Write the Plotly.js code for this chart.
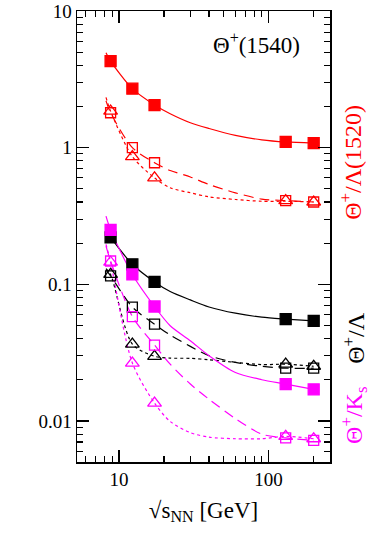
<!DOCTYPE html>
<html>
<head>
<meta charset="utf-8">
<script src="https://cdn.plot.ly/plotly-3.0.1.min.js"></script>
<style>
  html, body { margin: 0; padding: 0; background: #fff; }
  #plot { width: 382px; height: 546px; }
</style>
</head>
<body>
<div id="plot"></div>
<script>
// collision energies sqrt(s_NN) in GeV
var energy = [8.8, 12.3, 17.3, 130, 200];

// Theta+/Lambda(1520)
var lam1520Full = [4.3, 2.7, 2.05, 1.1, 1.08];
var lam1520Sq = [1.8, 1.0, 0.775, 0.41, 0.40];
var lam1520Tri = [1.85, 0.86, 0.6, 0.41, 0.40];

// Theta+/Lambda
var lamFull = [0.22, 0.14, 0.104, 0.0556, 0.054];
var lamSq = [0.115, 0.068, 0.051, 0.0243, 0.0243];
var lamTri = [0.118, 0.0365, 0.0297, 0.026, 0.0251];

// Theta+/K_s
var ksFull = [0.25, 0.118, 0.0687, 0.0186, 0.017];
var ksSq = [0.148, 0.058, 0.0359, 0.0075, 0.0072];
var ksTri = [0.145, 0.0265, 0.0135, 0.0077, 0.0074];

// curves
var curveX = [8.2, 8.8, 12.3, 17.3, 22, 30, 40, 60, 90, 130, 200];
var lam1520Solid = [4.95, 4.3, 2.7, 2.05, 1.77, 1.52, 1.38, 1.23, 1.14, 1.1, 1.08];
var lam1520Dash = [2.2, 1.8, 1.0, 0.775, 0.68, 0.61, 0.537, 0.467, 0.42, 0.41, 0.40];
var lam1520Dot = [2.33, 1.85, 0.86, 0.6, 0.508, 0.467, 0.436, 0.417, 0.405, 0.405, 0.40];
var lamSolid = [null, 0.22, 0.14, 0.104, 0.0885, 0.0768, 0.0682, 0.0614, 0.0574, 0.0556, 0.054];
var lamDash = [0.128, 0.115, 0.068, 0.051, 0.0425, 0.0351, 0.030, 0.0268, 0.0251, 0.0243, 0.0243];
var lamDot = [0.13, 0.118, 0.0365, 0.0297, 0.0288, 0.0287, 0.028, 0.0268, 0.0258, 0.026, 0.0251];
var ksSolid = [0.315, 0.25, 0.118, 0.0687, 0.0497, 0.0386, 0.030, 0.0226, 0.020, 0.0186, 0.017];
var ksDash = [0.19, 0.148, 0.058, 0.0359, 0.026, 0.0186, 0.0144, 0.0104, 0.008, 0.0075, 0.0072];
var ksDot = [0.196, 0.145, 0.0265, 0.0135, 0.0099, 0.0082, 0.0076, 0.0074, 0.0074, 0.0077, 0.0074];

var RED = '#ff0000', MAG = '#ff00ff', BLK = '#000000';

function curve(y, color, dash) {
  return {
    x: curveX, y: y, mode: 'lines', hoverinfo: 'skip',
    line: {color: color, width: 1.2, dash: dash, shape: 'spline', smoothing: 0.8}
  };
}
function pts(y, color, symbol, size) {
  return {
    x: energy, y: y, mode: 'markers',
    marker: {
      symbol: symbol, size: size, color: color,
      line: {color: color, width: 1.3}
    }
  };
}

var data = [
  curve(lam1520Solid, RED, 'solid'),
  curve(lam1520Dash, RED, '10px,6px'),
  curve(lam1520Dot, RED, 'dot'),
  curve(lamSolid, BLK, 'solid'),
  curve(lamDash, BLK, '10px,6px'),
  curve(lamDot, BLK, 'dot'),
  curve(ksSolid, MAG, 'solid'),
  curve(ksDash, MAG, '10px,6px'),
  curve(ksDot, MAG, 'dot'),
  pts(lam1520Sq, RED, 'square-open', 10),
  pts(lam1520Tri, RED, 'triangle-up-open', 12),
  pts(lam1520Full, RED, 'square', 11),
  pts(lamSq, BLK, 'square-open', 10),
  pts(lamTri, BLK, 'triangle-up-open', 12),
  pts(lamFull, BLK, 'square', 11),
  pts(ksSq, MAG, 'square-open', 10),
  pts(ksTri, MAG, 'triangle-up-open', 12),
  pts(ksFull, MAG, 'square', 11),
  // invisible copy so the top/right tick axes exist
  {x: energy, y: lamFull, xaxis: 'x2', yaxis: 'y2', mode: 'markers',
   marker: {opacity: 0}, hoverinfo: 'skip'}
];

var minorX = [6, 7, 8, 9, 20, 30, 40, 50, 60, 70, 80, 90, 200];
var minorY = [];
[0.001, 0.01, 0.1, 1].forEach(function (d) {
  for (var k = 2; k <= 9; k++) minorY.push(+(k * d).toPrecision(3));
});

var font = {family: 'Liberation Serif, DejaVu Serif, serif', size: 19, color: '#000'};
var xRange = [Math.log10(5.25), Math.log10(257)];
var yRange = [Math.log10(0.005), 1];

function tickAxis(extra) {
  var a = {
    type: 'log', ticks: 'inside', ticklen: 12, tickwidth: 1.3, tickcolor: '#000',
    showline: true, linecolor: '#000', linewidth: 1.5,
    showgrid: false, zeroline: false
  };
  for (var k in extra) a[k] = extra[k];
  return a;
}

var layout = {
  width: 382, height: 546,
  margin: {l: 77, r: 52, t: 11, b: 84},
  paper_bgcolor: '#fff', plot_bgcolor: '#fff',
  showlegend: false,
  font: font,
  xaxis: tickAxis({
    range: xRange, tickvals: [10, 100], ticktext: ['10', '100'],
    minor: {tickvals: minorX, ticks: 'inside', ticklen: 6, tickwidth: 1.1, tickcolor: '#000', showgrid: false},
    title: {text: '√s<sub>NN</sub> [GeV]', font: {family: font.family, size: 23}, standoff: 12}
  }),
  yaxis: tickAxis({
    range: yRange, tickvals: [0.01, 0.1, 1, 10], ticktext: ['0.01', '0.1', '1', '10'],
    minor: {tickvals: minorY, ticks: 'inside', ticklen: 6, tickwidth: 1.1, tickcolor: '#000', showgrid: false}
  }),
  xaxis2: tickAxis({
    overlaying: 'x', side: 'top', anchor: 'y2', range: xRange,
    tickvals: [10, 100], showticklabels: false,
    minor: {tickvals: minorX, ticks: 'inside', ticklen: 6, tickwidth: 1.1, tickcolor: '#000', showgrid: false}
  }),
  yaxis2: tickAxis({
    overlaying: 'y', side: 'right', anchor: 'x2', range: yRange,
    tickvals: [0.01, 0.1, 1, 10], showticklabels: false,
    minor: {tickvals: minorY, ticks: 'inside', ticklen: 6, tickwidth: 1.1, tickcolor: '#000', showgrid: false}
  }),
  annotations: [
    {text: 'Θ<sup>+</sup>(1540)', xref: 'paper', yref: 'paper', x: 0.71, y: 0.927,
     xanchor: 'center', yanchor: 'middle',
     showarrow: false, font: {family: font.family, size: 23, color: '#000'}},
    {text: 'Θ<sup>+</sup>/Λ(1520)', xref: 'paper', yref: 'paper', x: 1.082, y: 0.665,
     xanchor: 'center', yanchor: 'middle',
     textangle: -90, showarrow: false, font: {family: font.family, size: 24, color: RED}},
    {text: 'Θ<sup>+</sup>/Λ', xref: 'paper', yref: 'paper', x: 1.094, y: 0.275,
     xanchor: 'center', yanchor: 'middle',
     textangle: -90, showarrow: false, font: {family: font.family, size: 24, color: BLK}},
    {text: 'Θ<sup>+</sup>/K<sub>s</sub>', xref: 'paper', yref: 'paper', x: 1.094, y: 0.104,
     xanchor: 'center', yanchor: 'middle',
     textangle: -90, showarrow: false, font: {family: font.family, size: 24, color: MAG}}
  ]
};

Plotly.newPlot('plot', data, layout, {displayModeBar: false, staticPlot: true});
</script>
</body>
</html>
